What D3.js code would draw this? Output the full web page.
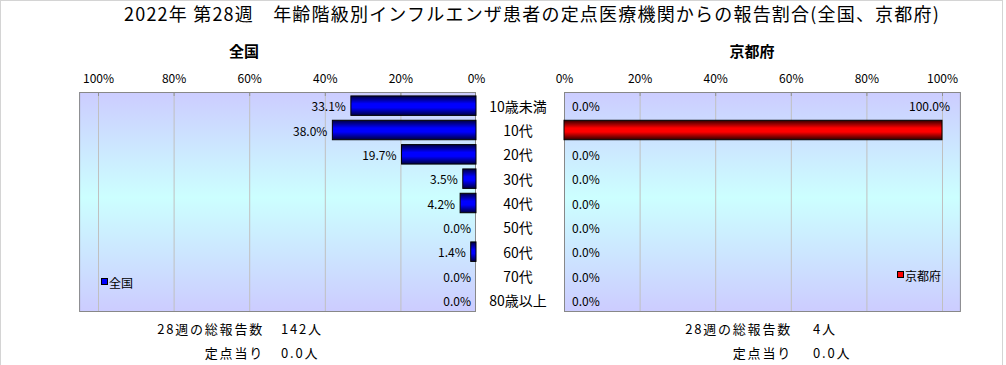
<!DOCTYPE html>
<html><head><meta charset="utf-8">
<script src="https://cdn.jsdelivr.net/npm/d3@7"></script>
<style>
body{margin:0;background:#fff;}
svg{display:block;font-family:"Noto Sans CJK JP","Noto Sans",sans-serif;}
</style></head><body>
<script>
const categories = ["10歳未満","10代","20代","30代","40代","50代","60代","70代","80歳以上"];
const zenkoku = [33.1, 38.0, 19.7, 3.5, 4.2, 0.0, 1.4, 0.0, 0.0];
const kyoto = [0.0, 100.0, 0.0, 0.0, 0.0, 0.0, 0.0, 0.0, 0.0];
const tickValues = [0, 20, 40, 60, 80, 100];
const title = "2022年 第28週　年齢階級別インフルエンザ患者の定点医療機関からの報告割合(全国、京都府)";
const panelNames = ["全国", "京都府"];
const totalLabel = "28週の総報告数";
const perLabel = "定点当り";
const totals = ["142人", "4人"];
const perPoint = ["0.0人", "0.0人"];

const W = 1006, H = 365;
const svg = d3.select("body").append("svg").attr("width", W).attr("height", H);
svg.append("rect").attr("x",0.5).attr("y",0.5).attr("width",1002).attr("height",370)
  .attr("fill","#fff").attr("stroke","#d4d4d4");

const defs = svg.append("defs");
const bg = defs.append("linearGradient").attr("id","bg").attr("x1",0).attr("y1",0).attr("x2",0).attr("y2",1);
bg.append("stop").attr("offset","0%").attr("stop-color","#ccccff");
bg.append("stop").attr("offset","48%").attr("stop-color","#ccffff");
bg.append("stop").attr("offset","100%").attr("stop-color","#ccccff");
function barGrad(id, dark, bright){
  const g = defs.append("linearGradient").attr("id",id).attr("x1",0).attr("y1",0).attr("x2",0).attr("y2",1);
  g.append("stop").attr("offset","0%").attr("stop-color",dark);
  g.append("stop").attr("offset","40%").attr("stop-color",bright);
  g.append("stop").attr("offset","60%").attr("stop-color",bright);
  g.append("stop").attr("offset","100%").attr("stop-color",dark);
}
barGrad("gb","#000040","#0000ff");
barGrad("gr","#300000","#ff0000");

svg.append("text").attr("x",532).attr("y",21).attr("text-anchor","middle")
  .attr("font-size",18).attr("letter-spacing",1.2).attr("fill","#000").text(title);

const plotTop = 92, plotBottom = 311;
const y = d3.scaleBand().domain(categories).range([plotTop+1.5, plotBottom+1.5]).paddingInner(0.2).paddingOuter(0.1);

const panels = [
  {name: panelNames[0], data: zenkoku, x: d3.scaleLinear().domain([0,100]).range([476,98]), dir:-1, fill:"url(#gb)", legendColor:"#0000ff", legendX:101, legendY:282, titleX:244, totalX:262},
  {name: panelNames[1], data: kyoto, x: d3.scaleLinear().domain([0,100]).range([564,942]), dir:1, fill:"url(#gr)", legendColor:"#ff0000", legendX:897, legendY:275, titleX:752, totalX:790}
];

panels.forEach((p, pi) => {
  const g = svg.append("g");
  const x0 = p.x(0), x105 = p.x(105);
  const left = Math.min(x0, x105), right = Math.max(x0, x105);
  g.append("rect").attr("x",left).attr("y",plotTop).attr("width",right-left).attr("height",plotBottom-plotTop)
    .attr("fill","url(#bg)");
  g.append("g").attr("transform",`translate(0,${plotTop})`)
    .call(d3.axisTop(p.x).tickValues(tickValues.slice(1)).tickSize(-(plotBottom-plotTop)).tickFormat(""))
    .call(s=>s.select(".domain").remove())
    .call(s=>s.selectAll("line").attr("stroke","#c0c0c0"));
  g.append("g").attr("transform",`translate(0,${plotTop})`)
    .call(d3.axisBottom(p.x).tickValues(tickValues.slice(1)).tickSize(4).tickFormat(""))
    .call(s=>s.select(".domain").remove())
    .call(s=>s.selectAll("line").attr("stroke","#909090"));
  g.append("rect").attr("x",left+0.5).attr("y",plotTop+0.5).attr("width",right-left-1).attr("height",plotBottom-plotTop)
    .attr("fill","none").attr("stroke","#888888");
  g.append("g").attr("transform",`translate(0,${plotTop-9})`)
    .call(d3.axisTop(p.x).tickValues(tickValues).tickSize(0).tickPadding(0).tickFormat(d=>d+"%"))
    .call(s=>s.select(".domain").remove())
    .call(s=>s.selectAll("text").attr("font-size",12).attr("fill","#000").attr("font-family","'Noto Sans CJK JP',sans-serif"));
  g.selectAll(".bar").data(p.data).join("rect")
    .attr("x", d => Math.min(p.x(0), p.x(d)))
    .attr("y", (d,i) => y(categories[i]))
    .attr("width", d => Math.abs(p.x(d)-p.x(0)))
    .attr("height", y.bandwidth())
    .attr("fill", p.fill).attr("stroke","#000").attr("stroke-width",1)
    .attr("display", d => d > 0 ? null : "none");
  g.selectAll(".lbl").data(p.data).join("text")
    .attr("font-size",12).attr("fill","#000")
    .attr("dominant-baseline","central")
    .each(function(d,i){
      const t = d3.select(this);
      const cy = y(categories[i]) + y.bandwidth()/2;
      if (p.dir < 0) {
        t.attr("x", p.x(d)-5).attr("y", cy).attr("text-anchor","end");
      } else {
        const xs = p.x(d)+8;
        if (xs + 40 > right) {
          t.attr("x", xs).attr("y", cy - y.step()).attr("text-anchor","end");
        } else {
          t.attr("x", xs).attr("y", cy).attr("text-anchor","start");
        }
      }
    })
    .text(d => d.toFixed(1) + "%");
  svg.append("text").attr("x",p.titleX).attr("y",57).attr("text-anchor","middle")
    .attr("font-size",15).attr("font-weight","bold").text(p.name);
  svg.append("rect").attr("x",p.legendX+0.5).attr("y",p.legendY-3.5).attr("width",6).attr("height",6)
    .attr("fill",p.legendColor).attr("stroke","#000");
  svg.append("text").attr("x",p.legendX+8).attr("y",p.legendY).attr("dominant-baseline","central")
    .attr("font-size",12).text(p.name);
  const fs = {"font-size":13, "letter-spacing":1.8};
  const footer = (txt, x, yy, anchor) => {
    const t = svg.append("text").attr("x",x).attr("y",yy).attr("dominant-baseline","central")
      .attr("text-anchor",anchor).text(txt);
    Object.entries(fs).forEach(([k,v])=>t.attr(k,v));
  };
  footer(totalLabel, p.totalX+2, 328, "end");
  footer(totals[pi], p.totalX+19+(pi?4:0), 328, "start");
  footer(perLabel, p.totalX+2, 352, "end");
  footer(perPoint[pi], p.totalX+19+(pi?4:0), 352, "start");
});

svg.append("g").selectAll("text").data(categories).join("text")
  .attr("x",518).attr("y",d=>y(d)+y.bandwidth()/2).attr("text-anchor","middle")
  .attr("dominant-baseline","central").attr("font-size",14).text(d=>d);
</script>
</body></html>
